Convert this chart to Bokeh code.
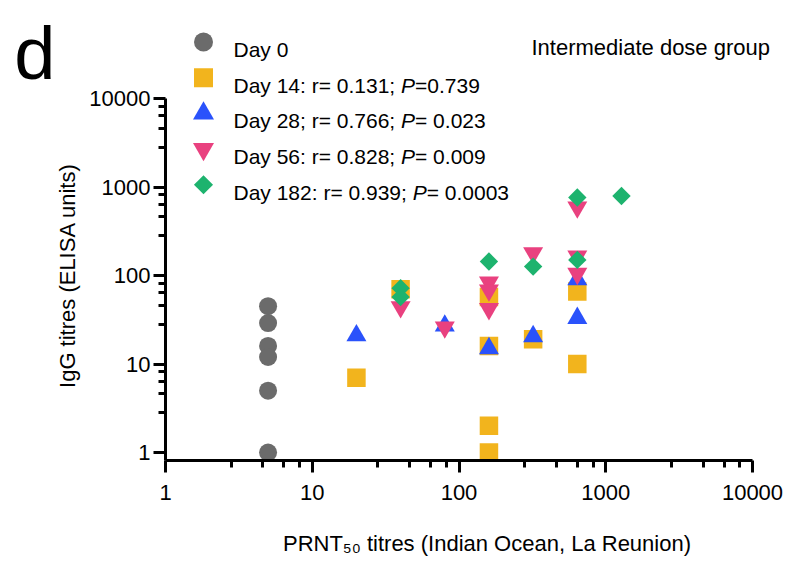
import math
from bokeh.plotting import figure
from bokeh.models import (Range1d, FixedTicker, NumeralTickFormatter, Label, LinearAxis,
                          LinearScale)
from bokeh.embed import file_html
from bokeh.resources import INLINE

# ---------------- data ----------------
day0_x = [5, 5, 5, 5, 5, 5]
day0_y = [45, 29, 16, 12, 5, 1]

day14_x = [20, 40, 160, 160, 160, 160, 320, 640, 640]
day14_y = [7, 70, 57, 16, 2, 1, 19, 66, 10]

day28_x = [20, 80, 160, 320, 640, 640]
day28_y = [21, 27, 15, 20.5, 90, 33]

day56_x = [40, 80, 160, 160, 160, 320, 640, 640, 640]
day56_y = [44, 26, 84, 68, 42, 180, 590, 165, 105]

day182_x = [40, 40, 160, 320, 640, 640, 1280]
day182_y = [72, 57, 144, 126, 760, 150, 790]

major_ticks = [1, 10, 100, 1000, 10000]
minor_steps = [2.8, 4.6, 6.4, 8.2]

legend_segments = [
    [("Day 0", False)],
    [("Day 14: r= 0.131; ", False), ("P", True), ("=0.739", False)],
    [("Day 28; r= 0.766; ", False), ("P", True), ("= 0.023", False)],
    [("Day 56: r= 0.828; ", False), ("P", True), ("= 0.009", False)],
    [("Day 182: r= 0.939; ", False), ("P", True), ("= 0.0003", False)],
]
panel_letter = "d"
group_title = "Intermediate dose group"
y_title = "IgG titres (ELISA units)"
x_title = "PRNT\u2085\u2080 titres (Indian Ocean, La Reunion)"

GRAY = "#6b6b6b"
ORANGE = "#f2b41d"
BLUE = "#2a52fb"
PINK = "#e9417f"
GREEN = "#1db36e"
FONT = "Liberation Sans"

# ---------------- layout (canvas pixels) ----------------
FL, FT, FW, FH = 165, 0, 617, 460
FB = FT + FH
DX, DY = 146.75, 88.5          # pixels per decade
Y_ONE = 452                    # canvas row of value 1
X_RANGE = Range1d(1, 10 ** (FW / DX))
Y_RANGE = Range1d(10 ** (-(FB - Y_ONE) / DY), 10 ** ((Y_ONE - FT) / DY))

# Arial / Liberation Sans advance widths (per 1000 em)
W = {" ": 278, "(": 333, ")": 333, ",": 278, ".": 278, ":": 278, ";": 278, "=": 584,
     "D": 722, "P": 667, "a": 556, "r": 333, "y": 500}
for ch in "0123456789":
    W[ch] = 556


def tw(text, size):
    return sum(W.get(c, 556) for c in text) * size / 1000.0


p = figure(x_axis_type="log", y_axis_type="log", x_range=X_RANGE, y_range=Y_RANGE,
           frame_width=FW, frame_height=FH,
           min_border_left=FL, min_border_top=FT, min_border_right=5, min_border_bottom=0,
           output_backend="svg", toolbar_location=None)
p.extra_x_ranges = {"px": Range1d(FL, FL + FW)}
p.extra_y_ranges = {"py": Range1d(FB, FT)}
p.extra_x_scales = {"px": LinearScale()}
p.extra_y_scales = {"py": LinearScale()}
p.outline_line_color = None
p.grid.visible = False
p.background_fill_color = "white"
p.border_fill_color = "white"

minor_ticks = [m * 10 ** k for k in range(4) for m in minor_steps]
for ax in (p.xaxis[0], p.yaxis[0]):
    ax.ticker = FixedTicker(ticks=major_ticks, minor_ticks=minor_ticks)
    ax.formatter = NumeralTickFormatter(format="0")
    ax.axis_line_width = 3
    ax.axis_line_color = "black"
    ax.major_tick_line_width = 3
    ax.minor_tick_line_width = 3
    ax.major_tick_line_color = "black"
    ax.minor_tick_line_color = "black"
    ax.major_tick_out = 12
    ax.major_tick_in = 0
    ax.minor_tick_out = 7
    ax.minor_tick_in = 0
    ax.major_label_text_font = FONT
    ax.major_label_text_font_size = "22px"
    ax.major_label_text_color = "black"
p.xaxis.bounds = (1, 10000)
p.yaxis.bounds = (Y_RANGE.start, 10000)
p.xaxis.major_label_standoff = 12
p.yaxis.major_label_standoff = 3


def text_axis(side, tick, text, size, standoff, orientation=None):
    kw = {"x_range_name": "px"} if side == "below" else {"y_range_name": "py"}
    ax = LinearAxis(ticker=FixedTicker(ticks=[tick], minor_ticks=[]),
                    major_label_overrides={tick: text},
                    axis_line_color=None, major_tick_line_color=None,
                    minor_tick_line_color=None, major_tick_out=0, major_tick_in=0,
                    minor_tick_out=0, minor_tick_in=0, major_label_standoff=standoff,
                    major_label_text_font=FONT, major_label_text_font_size=f"{size}px",
                    major_label_text_color="black", **kw)
    if orientation is not None:
        ax.major_label_orientation = orientation
    p.add_layout(ax, side)


# axis titles and panel letter (outside the frame)
text_axis("left", 275, y_title, 22, 7, "vertical")
text_axis("left", 30, panel_letter, 74, -4)
text_axis("below", 486.5, x_title, 22, 28)

# ---------------- data points ----------------
p.scatter(day0_x, day0_y, marker="circle", size=18, fill_color=GRAY, line_color=None)
p.scatter(day14_x, day14_y, marker="square", size=18.5, fill_color=ORANGE, line_color=None)
p.scatter(day28_x, day28_y, marker="triangle", size=20, fill_color=BLUE, line_color=None)
p.scatter(day56_x, day56_y, marker="inverted_triangle", size=20, fill_color=PINK, line_color=None)
p.scatter(day182_x, day182_y, marker="square", angle=math.pi / 4, size=13, fill_color=GREEN, line_color=None)

# ---------------- legend (pixel coordinates) ----------------
LEG_X = 203
leg_rows = [41.5 + 35.7 * i for i in range(5)]
styles = [("circle", 19, GRAY, 0), ("square", 19, ORANGE, 0), ("triangle", 21, BLUE, 0),
          ("inverted_triangle", 21, PINK, 0), ("square", 13.5, GREEN, math.pi / 4)]
for (mk, sz, col, ang), ry in zip(styles, leg_rows):
    p.scatter([LEG_X], [ry], marker=mk, size=sz, angle=ang, fill_color=col, line_color=None,
              x_range_name="px", y_range_name="py")

LEG_FS = 21


def plabel(px, py, text, size, italic=False):
    return Label(x=px, y=py, x_range_name="px", y_range_name="py", text=text,
                 text_font=FONT, text_font_size=f"{size}px",
                 text_font_style="italic" if italic else "normal",
                 text_color="black", text_align="left", text_baseline="alphabetic")


for segs, ry in zip(legend_segments, leg_rows):
    cx = 233
    for txt, ital in segs:
        p.add_layout(plabel(cx, ry + 7.5, txt.rstrip(), LEG_FS, italic=ital))
        cx += tw(txt, LEG_FS)

p.add_layout(plabel(531, 47, group_title, 22))

open("out.html", "w").write(file_html(p, INLINE))
